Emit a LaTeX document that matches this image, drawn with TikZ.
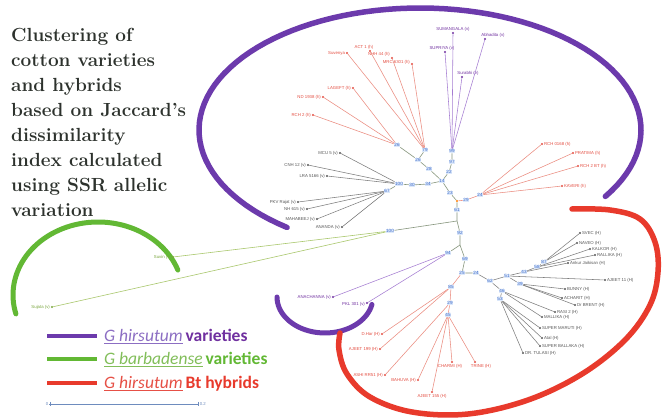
\documentclass[tikz,border=0pt]{standalone}
\usepackage{fontspec}
\newfontfamily\sansf{Liberation Sans}
\newfontfamily\legf{Carlito}
\definecolor{titlec}{RGB}{45,50,45}
\definecolor{cred}{RGB}{228,78,66}
\definecolor{lred}{RGB}{235,140,128}
\definecolor{cgrey}{RGB}{85,85,85}
\definecolor{lgrey}{RGB}{125,125,125}
\definecolor{cpur}{RGB}{112,48,160}
\definecolor{lpur}{RGB}{165,125,210}
\definecolor{cgreen}{RGB}{120,165,60}
\definecolor{lgreen}{RGB}{170,200,110}
\definecolor{bsblue}{RGB}{60,105,200}
\definecolor{bsfill}{RGB}{220,232,250}
\definecolor{bbone}{RGB}{135,150,125}
\definecolor{arcpur}{RGB}{108,58,172}
\definecolor{arcred}{RGB}{232,58,44}
\definecolor{arcgreen}{RGB}{98,184,52}
\definecolor{legpur}{RGB}{140,110,195}
\definecolor{leggreen}{RGB}{130,190,90}
\definecolor{legred}{RGB}{230,80,70}
\definecolor{sbc}{RGB}{110,140,190}
\tikzset{
  lab/.style={font=\sansf\fontsize{4.3}{5}\selectfont, inner sep=0.6pt},
  dotp/.style={circle, fill=#1, inner sep=0pt, minimum size=2.2pt},
  bs/.style={font=\sansf\fontsize{4.6}{5}\selectfont, text=bsblue, fill=bsfill, inner sep=0.5pt},
  eB/.style={draw=bbone, line width=0.6pt},
  eR/.style={draw=lred, line width=0.55pt},
  eP/.style={draw=lpur, line width=0.55pt},
  eG/.style={draw=lgrey, line width=0.55pt},
  eE/.style={draw=lgreen, line width=0.6pt},
  bigarc/.style={line width=#1, line cap=round},
}
\begin{document}
\begin{tikzpicture}[x=1pt,y=-1pt]
\useasboundingbox (0,0) rectangle (662,419);
\fill[white] (0,0) rectangle (662,419);

% title
\node[anchor=north west, align=left, inner sep=0pt, text=titlec,
      font=\fontsize{19}{25}\selectfont\bfseries] (title) at (11,28)
 {Clustering of\\cotton varieties\\and hybrids\\based on Jaccard's\\dissimilarity\\index calculated\\using SSR allelic\\variation};

% group arcs
\draw[bigarc=5.5pt, arcpur] plot[domain=127:393, samples=90] ({420+221*cos(\x)},{130+122*sin(\x)});
\draw[bigarc=5pt, arcgreen] plot[domain=165:340, samples=60] ({98+85*cos(\x)},{295+73*sin(\x)});
\draw[bigarc=5pt, arcpur] plot[domain=12:180, samples=40] ({325+48*cos(\x)},{297+36*sin(\x)});
\draw[bigarc=5.5pt, arcred] plot[smooth, tension=0.6] coordinates {(572,209) (610,210) (640,219) (655,242) (658,272) (650,305) (625,340) (582,374) (528,400) (468,414) (412,412) (370,397) (347,374) (339,350) (340,333)};

% internal nodes
\node[bs] (j23) at (450,193) {23};
\node[dotp=orange] (jor) at (457,201) {};
\node[bs] (j61) at (457,210) {61};
\node[bs] (j29) at (466,200) {29};
\node[bs] (j24u) at (480,195) {24};
\node[bs] (j14) at (442,181) {14};
\node[bs] (j22) at (449,172) {22};
\node[bs] (j97) at (452,162) {97};
\node[bs] (j99) at (452,151) {99};
\node[bs] (j28) at (429,169) {28};
\node[bs] (j26b) at (418,160) {26};
\node[bs] (j79) at (425,150) {79};
\node[bs] (j26a) at (397,145) {26};
\node[bs] (j34) at (428,184) {34};
\node[bs] (j30) at (412,185) {30};
\node[bs] (j100a) at (399,184) {100};
\node[bs] (j67) at (387,191) {67};
\coordinate (jb) at (457,221);
\node[bs] (j100g) at (390,231) {100};
\node[bs] (j92) at (460,233) {92};
\coordinate (jc) at (460,245);
\node[bs] (j94) at (448,253) {94};
\node[bs] (j69) at (465,259) {69};
\node[bs] (j25) at (462,273) {25};
\node[bs] (j24) at (476,273) {24};
\node[bs] (j85) at (451,287) {85};
\node[bs] (j29b) at (450,303) {29};
\node[bs] (j45) at (448,315) {45};
\node[bs] (r1) at (490,281) {62};
\node[bs] (r2) at (507,276) {51};
\node[bs] (r3) at (524,272) {43};
\node[bs] (r4) at (537,267) {58};
\node[bs] (r5) at (544,262) {87};
\node[bs] (r6) at (520,284) {39};
\node[bs] (r7) at (502,291) {46};
\node[bs] (r8) at (500,299) {53};

% backbone
\draw[eB] (j23) -- (j14) -- (j22) -- (j97) -- (j99);
\draw[eB] (j14) -- (j28) -- (j26b) -- (j79);
\draw[eB] (j26b) -- (j26a);
\draw[eB] (j14) -- (j34) -- (j30) -- (j100a) -- (j67);
\draw[eB] (j23) -- (jor) -- (j61);
\draw[eR] (jor) -- (j29) -- (j24u);
\draw[eB] (j61) -- (jb) -- (j92) -- (jc) -- (j69) -- (j25) -- (j24);
\draw[eB] (jb) -- (j100g);
\draw[eB] (jc) -- (j94);
\draw[eR] (j25) -- (j85) -- (j29b) -- (j45);
\draw[eG] (j24) -- (r1) -- (r2) -- (r3) -- (r4) -- (r5);
\draw[eG] (r2) -- (r6);
\draw[eG] (r1) -- (r7) -- (r8);

% upper purple leaves
\node[dotp=cpur, label={[lab,text=cpur]above:SUMANGALA (v)}] (P1) at (453,33) {};
\node[dotp=cpur, label={[lab,text=cpur,xshift=8pt]above:Abhadita (v)}] (P2) at (485,39) {};
\node[dotp=cpur, label={[lab,text=cpur,xshift=-3pt]above:SUPRIYA (v)}] (P3) at (445,52) {};
\node[dotp=cpur, label={[lab,text=cpur,xshift=6pt]above:Surabhi (v)}] (P4) at (462,77) {};
\foreach \p in {P1,P2,P3,P4} \draw[eP] (\p) -- (j99);

% upper left red leaves
\node[dotp=cred, label={[lab,text=cred]left:Suvenya}] (R1) at (347,53) {};
\node[dotp=cred, label={[lab,text=cred,xshift=-6pt]above:ACT 1 (h)}] (R2) at (370,51) {};
\node[dotp=cred, label={[lab,text=cred,yshift=4pt]left:NHH 44 (h)}] (R3) at (392,58) {};
\node[dotp=cred, label={[lab,text=cred,yshift=2pt]left:MRC 6301 (h)}] (R4) at (412,64) {};
\node[dotp=cred, label={[lab,text=cred]left:LAGEFT (h)}] (R5) at (353,88) {};
\node[dotp=cred, label={[lab,text=cred]left:ND 1938 (h)}] (R6) at (323,97) {};
\node[dotp=cred, label={[lab,text=cred]left:RCH 2 (h)}] (R7) at (313,115) {};
\foreach \p in {R1,R2,R3,R4} \draw[eR] (\p) -- (j79);
\foreach \p in {R5,R6,R7} \draw[eR] (\p) -- (j26a);

% left grey leaves
\node[dotp=cgrey, label={[lab,text=cgrey]left:MCU 5 (v)}] (G1) at (340,153) {};
\node[dotp=cgrey, label={[lab,text=cgrey]left:CNH 12 (v)}] (G2) at (308,165) {};
\node[dotp=cgrey, label={[lab,text=cgrey]left:LRA 5166 (v)}] (G3) at (327,176) {};
\node[dotp=cgrey, label={[lab,text=cgrey]left:PKV Rajat (v)}] (G4) at (298,202) {};
\node[dotp=cgrey, label={[lab,text=cgrey]left:NH 615 (v)}] (G5) at (307,209) {};
\node[dotp=cgrey, label={[lab,text=cgrey]left:MAHABEEJ (v)}] (G6) at (317,219) {};
\node[dotp=cgrey, label={[lab,text=cgrey]left:ANANDA (v)}] (G7) at (342,227) {};
\foreach \p in {G1,G2,G3} \draw[eG] (\p) -- (j100a);
\foreach \p in {G4,G5,G6,G7} \draw[eG] (\p) -- (j67);

% green leaves
\node[dotp=cgreen, label={[lab,text=cgreen]left:Suvin (v)}] (E1) at (173,257) {};
\node[dotp=cgreen, label={[lab,text=cgreen]left:Sujata (v)}] (E2) at (52,307) {};
\draw[eE] (E1) -- (j100g);
\draw[eE] (E2) -- (j100g);

% lower purple leaves
\node[dotp=cpur, label={[lab,text=cpur]left:ANACHANNA (v)}] (Q1) at (333,297) {};
\node[dotp=cpur, label={[lab,text=cpur,yshift=-1pt]left:PKL 301 (v)}] (Q2) at (367,303) {};
\draw[eP] (Q1) -- (j94);
\draw[eP] (Q2) -- (j94);

% upper right red leaves
\node[dotp=cred, label={[lab,text=cred]right:RCH 0168 (h)}] (U1) at (542,144) {};
\node[dotp=cred, label={[lab,text=cred]right:PRATIMA (h)}] (U2) at (573,153) {};
\node[dotp=cred, label={[lab,text=cred]right:RCH 2 BT (h)}] (U3) at (578,166) {};
\node[dotp=cred, label={[lab,text=cred]right:KAVERI (h)}] (U4) at (562,186) {};
\foreach \p in {U1,U2,U3,U4} \draw[eR] (\p) -- (j24u);

% lower red leaves
\node[dotp=cred, label={[lab,text=cred]left:D.Har (H)}] (H1) at (382,334) {};
\node[dotp=cred, label={[lab,text=cred]left:AJEET 199 (H)}] (H2) at (380,349) {};
\node[dotp=cred, label={[lab,text=cred]left:ASHI RR51 (H)}] (H3) at (385,375) {};
\node[dotp=cred, label={[lab,text=cred]left:BAHUVA (H)}] (H4) at (418,380) {};
\node[dotp=cred, label={[lab,text=cred]below:AJEET 155 (H)}] (H5) at (432,392) {};
\node[dotp=cred, label={[lab,text=cred,xshift=-2pt]below:CHARMI (H)}] (H6) at (452,362) {};
\node[dotp=cred, label={[lab,text=cred,xshift=6pt]below:TRINE (H)}] (H7) at (475,362) {};
\draw[eR] (H1) -- (j85);
\draw[eR] (H2) -- (j85);
\draw[eR] (H3) -- (j29b);
\foreach \p in {H4,H5,H6,H7} \draw[eR] (\p) -- (j45);

% right grey cluster leaves
\node[dotp=cgrey, label={[lab,text=cgrey]right:SVEC (H)}] (K1) at (580,233) {};
\node[dotp=cgrey, label={[lab,text=cgrey]right:NAVEO (H)}] (K2) at (577,243) {};
\node[dotp=cgrey, label={[lab,text=cgrey]right:KALKOR (H)}] (K3) at (590,249) {};
\node[dotp=cgrey, label={[lab,text=cgrey]right:RALLIKA (H)}] (K4) at (595,255) {};
\node[dotp=cgrey, label={[lab,text=cgrey]right:Ankur Jaikisan (H)}] (K5) at (568,263) {};
\node[dotp=cgrey, label={[lab,text=cgrey]right:AJEET 11 (H)}] (K6) at (605,280) {};
\node[dotp=cgrey, label={[lab,text=cgrey]right:BUNNY (H)}] (K7) at (565,289) {};
\node[dotp=cgrey, label={[lab,text=cgrey]right:ACHARIT (H)}] (K8) at (562,298) {};
\node[dotp=cgrey, label={[lab,text=cgrey]right:Dr BRENT (H)}] (K9) at (575,305) {};
\node[dotp=cgrey, label={[lab,text=cgrey]right:RASI 2 (H)}] (K10) at (555,312) {};
\node[dotp=cgrey, label={[lab,text=cgrey]right:MALLIKA (H)}] (K11) at (542,317) {};
\node[dotp=cgrey, label={[lab,text=cgrey]right:SUPER MARUTI (H)}] (K12) at (540,328) {};
\node[dotp=cgrey, label={[lab,text=cgrey]right:Atal (H)}] (K13) at (542,338) {};
\node[dotp=cgrey, label={[lab,text=cgrey]right:SUPER BALLAKA (H)}] (K14) at (540,346) {};
\node[dotp=cgrey, label={[lab,text=cgrey]right:DR. TULASI (H)}] (K15) at (523,353) {};
\draw[eG] (K1) -- (r5);
\draw[eG] (K2) -- (r5);
\draw[eG] (K3) -- (r4);
\draw[eG] (K4) -- (r4);
\draw[eG] (K5) -- (r3);
\draw[eG] (K6) -- (r2);
\foreach \p in {K7,K8,K9} \draw[eG] (\p) -- (r6);
\foreach \p in {K10,K11} \draw[eG] (\p) -- (r7);
\foreach \p in {K12,K13,K14,K15} \draw[eG] (\p) -- (r8);

% legend
\draw[line width=4.5pt, arcpur] (47,336) -- (97,336);
\draw[line width=4.5pt, arcgreen] (47,359) -- (97,359);
\draw[line width=4.5pt, arcred] (47,383) -- (97,383);
\node[anchor=base west, inner sep=0pt, font=\legf\fontsize{17.5}{20}\selectfont] (lg1) at (104,342)
 {\textcolor{legpur}{\underline{\itshape G hirsutum}}\,\textcolor{cpur}{\bfseries varieties}};
\node[anchor=base west, inner sep=0pt, font=\legf\fontsize{17.5}{20}\selectfont] (lg2) at (104,365)
 {\textcolor{leggreen}{\underline{\itshape G barbadense}}\,\textcolor{arcgreen}{\bfseries varieties}};
\node[anchor=base west, inner sep=0pt, font=\legf\fontsize{17.5}{20}\selectfont] (lg3) at (104,389)
 {\textcolor{legred}{\underline{\itshape G hirsutum}}\,\textcolor{arcred}{\bfseries Bt hybrids}};

% scale bar
\node[lab, text=sbc, anchor=east] (s0) at (49,404) {0};
\node[lab, text=sbc, anchor=west] (s1) at (199,404) {0.2};
\draw[sbc, line width=0.6pt] (s0.east) -- (s1.west);
\draw[sbc, line width=0.5pt] (50,402) -- (50,406);
\draw[sbc, line width=0.5pt] (198,402) -- (198,406);
\end{tikzpicture}
\end{document}
